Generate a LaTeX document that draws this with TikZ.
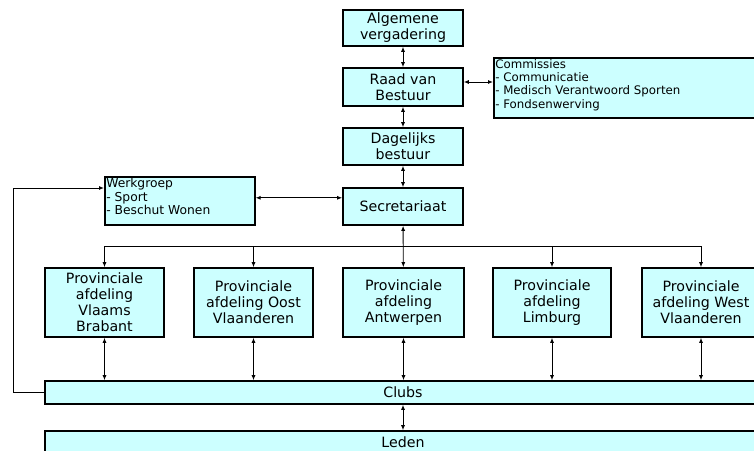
\documentclass[tikz,border=0pt]{standalone}
\usepackage{fontspec}
\setmainfont{DejaVu Sans}
\usetikzlibrary{arrows.meta}
\definecolor{boxfill}{RGB}{204,255,255}
\begin{document}
\begin{tikzpicture}[x=1pt,y=-1pt,
  box/.style={draw=black, line width=1.6pt, fill=boxfill, align=center, inner sep=0pt,
    font=\fontsize{14.2}{16}\selectfont},
  listbox/.style={draw=black, line width=1.6pt, fill=boxfill, inner sep=1.5pt, anchor=north west,
    font=\fontsize{11.8}{13.3}\selectfont},
  conn/.style={line width=0.9pt},
  one/.style={conn, -{Latex[length=5pt,width=4pt]}},
  two/.style={conn, {Latex[length=5pt,width=4pt]}-{Latex[length=5pt,width=4pt]}}]
\useasboundingbox (0,0) rectangle (754,450);
\clip (0,0) rectangle (754,450);

\node[box, minimum width=120pt, minimum height=36pt] (alg) at (403,28) {Algemene\\vergadering};
\node[box, minimum width=120pt, minimum height=38pt] (raad) at (403,87) {Raad van\\Bestuur};
\node[box, minimum width=120pt, minimum height=37pt] (dag) at (403,146.5) {Dagelijks\\bestuur};
\node[box, minimum width=120pt, minimum height=37pt] (sec) at (403,206.5) {Secretariaat};

\node[listbox] (com) at (493,57) {\parbox[c][57pt][t]{262pt}{Commissies\\- Communicatie\\- Medisch Verantwoord Sporten\\- Fondsenwerving}};
\node[listbox, font=\fontsize{12.3}{13.5}\selectfont] (wg) at (104,176) {\parbox[c][45pt][t]{147pt}{Werkgroep\\- Sport\\- Beschut Wonen}};

\node[box, minimum width=119pt, minimum height=69pt] (p1) at (104.5,302.5) {Provinciale\\afdeling\\Vlaams\\Brabant};
\node[box, minimum width=119pt, minimum height=69pt] (p2) at (253.5,302.5) {Provinciale\\afdeling Oost\\Vlaanderen};
\node[box, minimum width=121pt, minimum height=69pt] (p3) at (403.5,302.5) {Provinciale\\afdeling\\Antwerpen};
\node[box, minimum width=118pt, minimum height=69pt] (p4) at (552,302.5) {Provinciale\\afdeling\\Limburg};
\node[box, minimum width=118pt, minimum height=69pt] (p5) at (701,302.5) {Provinciale\\afdeling West\\Vlaanderen};

\node[box, minimum width=716pt, minimum height=23pt] (clubs) at (403,392.5) {Clubs};
\node[box, minimum width=716pt, minimum height=23pt] (leden) at (403,442.5) {Leden};

\coordinate (bus) at (403,246);

\draw[two] (alg) -- (raad);
\draw[two] (raad) -- (dag);
\draw[two] (dag) -- (sec);
\draw[two] ([yshift=5pt]raad.east) -- ([yshift=5pt]raad.east -| com.west);
\draw[two] ([yshift=3pt]wg.east) -- ([yshift=3pt]wg.east -| sec.west);
\draw[two] (sec) -- (p3);
\draw[conn] (p1.north |- bus) -- (p5.north |- bus);
\draw[one] (p1.north |- bus) -- (p1.north);
\draw[one] (p2.north |- bus) -- (p2.north);
\draw[one] (p4.north |- bus) -- (p4.north);
\draw[one] (p5.north |- bus) -- (p5.north);

\draw[two] (p1.south) -- (p1.south |- clubs.north);
\draw[two] (p2.south) -- (p2.south |- clubs.north);
\draw[two] (p3.south) -- (p3.south |- clubs.north);
\draw[two] (p4.south) -- (p4.south |- clubs.north);
\draw[two] (p5.south) -- (p5.south |- clubs.north);
\draw[two] (clubs) -- (leden);

\draw[one] (clubs.west) -- ++(-31,0) |- ([yshift=-12pt]wg.north west);
\end{tikzpicture}
\end{document}
